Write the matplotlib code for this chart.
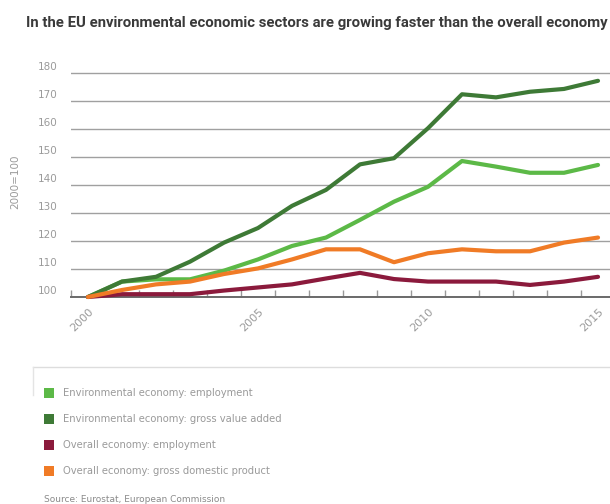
import numpy as np
import matplotlib.pyplot as plt
import matplotlib.transforms as mtransforms
from matplotlib.patches import Rectangle
from matplotlib.lines import Line2D

# Data (index, 2000 = 100)
years = list(range(2000, 2016))
env_employment = [100, 105.5, 106.3, 106.3, 109.4, 113.4, 118.2, 121.2,
                  127.5, 134.0, 139.3, 148.5, 146.5, 144.3, 144.3, 147.1]
env_gva = [100, 105.5, 107.2, 112.6, 119.4, 124.6, 132.5, 138.2,
           147.3, 149.5, 160.2, 172.3, 171.2, 173.2, 174.2, 177.1]
overall_employment = [100, 101, 101, 101, 102.3, 103.4, 104.5, 106.6,
                      108.6, 106.4, 105.5, 105.5, 105.5, 104.3, 105.5, 107.2]
overall_gdp = [100, 102.5, 104.5, 105.5, 108.2, 110.2, 113.4, 117.0,
               117.0, 112.4, 115.6, 117.0, 116.3, 116.3, 119.4, 121.2]

series_labels = ["Environmental economy: employment",
                 "Environmental economy: gross value added",
                 "Overall economy: employment",
                 "Overall economy: gross domestic product"]
series_colors = ["#5cb947", "#3e7a36", "#8b1a3c", "#f07b26"]
series_values = [env_employment, env_gva, overall_employment, overall_gdp]

yticks = [100, 110, 120, 130, 140, 150, 160, 170, 180]
xlabel_years = [2000, 2005, 2010, 2015]

grey_text = "#9a9a9a"

fig = plt.figure(figsize=(6.10, 5.04), dpi=100)
ax = fig.add_axes([71 / 610, 1 - 297 / 504, 544 / 610, 82 * 2.804 / 504])

x = np.arange(len(years))
# overall lines first, environmental lines on top
for idx in [2, 3, 1, 0]:
    ax.plot(x, series_values[idx], color=series_colors[idx], lw=3.0,
            solid_capstyle='round', solid_joinstyle='round', zorder=3 + idx,
            clip_on=False)

ax.set_xlim(-0.5, len(years) - 0.5)
ax.set_ylim(100, 182)

# y axis
ax.set_yticks(yticks)
ax.set_yticklabels([str(v) for v in yticks])
ax.tick_params(axis='y', length=0, pad=10, labelsize=7.5, labelcolor=grey_text)
offset = mtransforms.ScaledTranslation(0, 5 / 72, fig.dpi_scale_trans)
for lab in ax.get_yticklabels():
    lab.set_transform(lab.get_transform() + offset)
ax.yaxis.grid(True, color="#a0a0a0", lw=1.0)
ax.set_axisbelow(True)
ax.set_ylabel("2000=100", color=grey_text, fontsize=7.5, labelpad=12)

# x axis: categories, ticks on the boundaries
ax.set_xticks([years.index(y) for y in xlabel_years])
ax.set_xticklabels([str(y) for y in xlabel_years], rotation=45, ha='right',
                   va='top', rotation_mode='anchor')
ax.tick_params(axis='x', length=0, pad=7, labelsize=8, labelcolor=grey_text)
ax.set_xticks(np.arange(-0.5, len(years), 1.0), minor=True)
ax.tick_params(axis='x', which='minor', direction='in', length=5, color="#999999",
               width=1.0)

for side in ['top', 'right', 'left']:
    ax.spines[side].set_visible(False)
ax.spines['bottom'].set_color("#6a6a6a")
ax.spines['bottom'].set_linewidth(1.4)

# title
fig.text(26 / 610, 1 - 23 / 504,
         "In the EU environmental economic sectors are growing faster than the overall economy",
         fontsize=10.7, fontweight='bold', color="#3a3a3a", va='center', ha='left',
         family=['Roboto', 'DejaVu Sans'])

# legend panel
fig.add_artist(Line2D([33 / 610, 1.0], [1 - 367 / 504, 1 - 367 / 504],
                      transform=fig.transFigure, color="#dddddd", lw=1.0))
fig.add_artist(Line2D([33 / 610, 33 / 610], [1 - 367 / 504, 1 - 395 / 504],
                      transform=fig.transFigure, color="#e4e4e4", lw=1.0))
for i, (lab, col) in enumerate(zip(series_labels, series_colors)):
    yc = 393 + 26 * i
    fig.add_artist(Rectangle((44 / 610, 1 - (yc + 5) / 504), 10 / 610, 10 / 504,
                             transform=fig.transFigure, color=col, lw=0))
    fig.text(63 / 610, 1 - yc / 504, lab, fontsize=7.2, color=grey_text,
             va='center', ha='left')

fig.text(44 / 610, 1 - 500 / 504, "Source: Eurostat, European Commission",
         fontsize=6.5, color="#8a8a8a", va='center', ha='left')

fig.savefig("out.png", dpi=100, facecolor='white')
